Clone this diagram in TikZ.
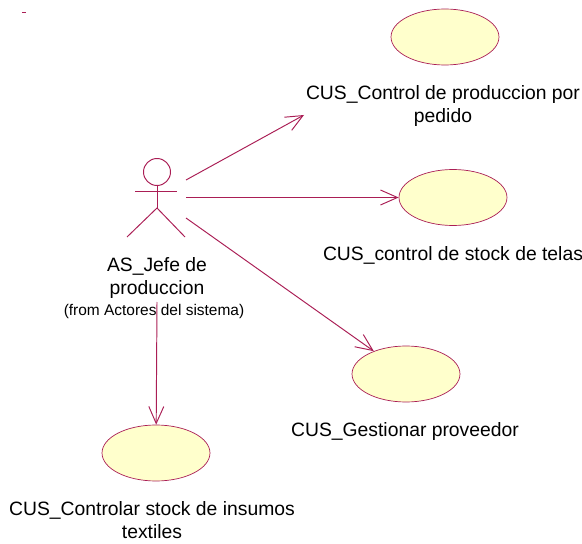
\documentclass[tikz,border=0pt]{standalone}
\usepackage{fontspec}
\usepackage{xcolor}
\setmainfont{Liberation Sans}
\usetikzlibrary{shapes.geometric, arrows.meta, positioning}
\definecolor{roseline}{RGB}{170,30,85}
\definecolor{rosefill}{RGB}{255,255,204}

\begin{document}
\begin{tikzpicture}[
    x=0.02cm, y=-0.02cm,
    usecase/.style={ellipse, draw=roseline, fill=rosefill, line width=0.4pt, minimum width=2.16cm, minimum height=1.12cm, inner sep=0pt},
    stick/.style={draw=roseline, line width=0.55pt},
    arrow/.style={-{Straight Barb[length=3.4mm, width=3mm]}, line width=0.55pt, draw=roseline},
    caption/.style={align=center, font=\fontsize{11}{13}\selectfont, inner sep=0pt},
    origin/.style={font=\fontsize{8.8}{10}\selectfont, inner sep=0pt}
]
\useasboundingbox (0,0) rectangle (582,544);

% Stray mark top left
\coordinate (markl) at (22,12);
\coordinate (markr) at (26,12);
\draw[stick] (markl) -- (markr);

% Use cases
\node[usecase] (produccion) at (445,37) {};
\node[usecase] (telas) at (453,197.5) {};
\node[usecase] (proveedor) at (406,374) {};
\node[usecase] (insumos) at (156,453) {};

% Use case labels
\node[caption, below=0.40cm of produccion, xshift=-0.04cm] (produccionlabel) {CUS\_Control de produccion por\\pedido};
\node[caption, below=0.40cm of telas] (telaslabel) {CUS\_control de stock de telas};
\node[caption, below=0.40cm of proveedor, xshift=-0.02cm] (proveedorlabel) {CUS\_Gestionar proveedor};
\node[caption, below=0.40cm of insumos, xshift=-0.08cm] (insumoslabel) {CUS\_Controlar stock de insumos\\textiles};

% Actor
\node[circle, stick, fill=white, minimum size=0.54cm, inner sep=0pt] (head) at (157,172) {};
\coordinate (armleft) at (135,191);
\coordinate (armright) at (177,191);
\coordinate (hip) at (157,208);
\coordinate (footleft) at (127,237);
\coordinate (footright) at (185,237);
\draw[stick] (armleft) -- (armright);
\draw[stick] (head.south) -- (hip);
\draw[stick] (footleft) -- (hip) -- (footright);
\node[caption, below=0.40cm of hip |- footleft] (actorlabel) {AS\_Jefe de\\produccion};
\node[origin, below=0.10cm of actorlabel, xshift=-0.06cm] (actororigin) {(from Actores del sistema)};

% Arrows
\coordinate (startup) at (186,180);
\coordinate (endup) at (304,115);
\coordinate (startmid) at (186,197.5);
\coordinate (startlow) at (186,218);
\coordinate (startdown) at (157,302);
\draw[arrow] (startup) -- (endup);
\draw[arrow] (startmid) -- (telas);
\draw[arrow] (startlow) -- (proveedor);
\draw[arrow] (startdown) -- (insumos);

\end{tikzpicture}
\end{document}
